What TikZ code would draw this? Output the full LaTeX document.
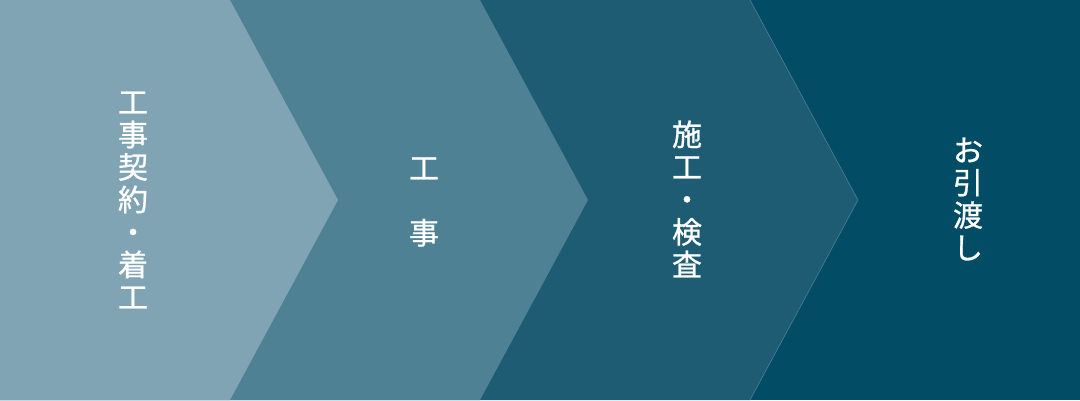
\documentclass[tikz,border=0pt]{standalone}
\usepackage{fontspec}
\newfontfamily\jpfont[FakeBold=0.8]{Noto Sans CJK JP}
\usetikzlibrary{calc,positioning}

\definecolor{stepA}{HTML}{80A4B3}
\definecolor{stepB}{HTML}{4F8194}
\definecolor{stepC}{HTML}{1D5C73}
\definecolor{stepD}{HTML}{024C66}
\definecolor{stepEdge}{HTML}{4E7F92}

\begin{document}
\begin{tikzpicture}[x=1pt, y=1pt,
    steplabel/.style={text=white, align=center, inner sep=0pt,
      font=\jpfont\fontsize{30}{32.5}\selectfont}]
    \useasboundingbox (0,0) rectangle (1080,400);

    % --- Tips of the chevrons ---
    \coordinate (tipA) at (338,200);
    \coordinate (tipB) at (588,200);
    \coordinate (tipC) at (858,200);

    % --- Panels, back to front ---
    \fill[stepD] (0,0) rectangle (1080,400);
    \fill[stepC] (0,400) -- (750,400) -- (tipC) -- (750,0) -- (0,0) -- cycle;
    \draw[stepEdge, line width=0.6pt] (750,400) -- (tipC) -- (750,0);
    \fill[stepB] (0,400) -- (480,400) -- (tipB) -- (480,0) -- (0,0) -- cycle;
    \fill[stepA] (0,400) -- (230,400) -- (tipA) -- (230,0) -- (0,0) -- cycle;

    % --- Labels, set vertically ---
    \node[steplabel] (contract) at (133,200) {工\\事\\契\\約\\・\\着\\工};
    \node[steplabel] (work) at (424,198) {工\\　\\事};
    \node[steplabel] (inspect) at (687,201) {施\\工\\・\\検\\査};
    \node[steplabel] (handover) at (968,201) {お\\引\\渡\\し};
  \end{tikzpicture}
\end{document}
